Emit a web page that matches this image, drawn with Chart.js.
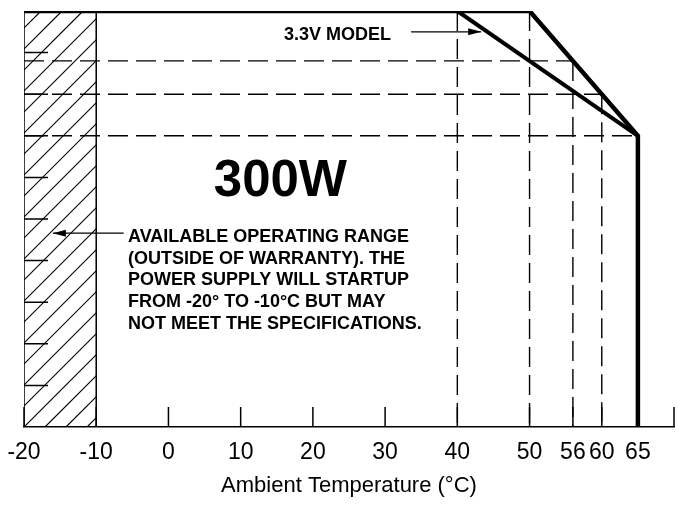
<!DOCTYPE html>
<html>
<head>
<meta charset="utf-8">
<script src="https://cdn.jsdelivr.net/npm/chart.js@4"></script>
<style>
  html, body { margin: 0; padding: 0; background: #fff; }
  #wrap { width: 678px; height: 508px; }
</style>
</head>
<body>
<div id="wrap"><canvas id="c"></canvas></div>
<script>
/* ── Data ── */
const tickTemps   = [-20, -10, 0, 10, 20, 30, 40, 50, 56, 60, 65, 70];
const stdTemps    = [-20, 50, 65, 65];     // standard model curve
const stdLoad     = [100, 100, 70, 0];
const v33Temps    = [40, 65];              // 3.3V model curve
const v33Load     = [100, 70];
const refTemps    = [40, 50, 56, 60];      // dashed verticals
const refTempTop  = [100, 100, 88, 80];
const refLoads    = [88, 80, 70];          // dashed horizontals
const refLoadEnd  = [56, 60, 65];
const loadTicks   = [10, 20, 30, 40, 50, 60, 70, 80, 90];
const coldRange   = [-20, -10];            // hatched "outside warranty" band
const noteLines   = [
  'AVAILABLE OPERATING RANGE',
  '(OUTSIDE OF WARRANTY). THE',
  'POWER SUPPLY WILL STARTUP',
  'FROM -20\u00b0 TO -10\u00b0C BUT MAY',
  'NOT MEET THE SPECIFICATIONS.'
];

const FONT = "'Liberation Sans', Arial, sans-serif";
const DASH = [20, 8];

const datasets = [];
const line = (xs, ys, opts) => datasets.push({
  type: 'line',
  data: xs.map((v, i) => ({ x: v, y: ys[i] })),
  borderColor: '#000', pointRadius: 0, tension: 0, fill: false,
  ...opts
});

// dashed guide lines
refTemps.forEach((t, i) => line([t, t], [refTempTop[i], 0], { borderWidth: 1.4, borderDash: DASH }));
refLoads.forEach((l, i) => line([coldRange[0], refLoadEnd[i]], [l, l], { borderWidth: 1.4, borderDash: DASH }));
// band borders
coldRange.forEach(t => line([t, t], [100, 0], { borderWidth: 1.5 }));
// derating curves
line(stdTemps, stdLoad, { borderWidth: 4.5 });
line(v33Temps, v33Load, { borderWidth: 4 });

/* ── Drawing helpers ── */
function arrow(ctx, x0, y0, x1, y1) {
  const ang = Math.atan2(y1 - y0, x1 - x0), L = 13, W = 3.5;
  ctx.beginPath(); ctx.moveTo(x0, y0); ctx.lineTo(x1, y1); ctx.stroke();
  ctx.beginPath();
  ctx.moveTo(x1, y1);
  ctx.lineTo(x1 - L * Math.cos(ang) + W * Math.sin(ang), y1 - L * Math.sin(ang) - W * Math.cos(ang));
  ctx.lineTo(x1 - L * Math.cos(ang) - W * Math.sin(ang), y1 - L * Math.sin(ang) + W * Math.cos(ang));
  ctx.closePath(); ctx.fill();
}

const decor = {
  id: 'decor',
  beforeDatasetsDraw(chart) {
    const { ctx, chartArea: a, scales: { x } } = chart;
    const x0 = x.getPixelForValue(coldRange[0]), x1 = x.getPixelForValue(coldRange[1]);
    const h = a.bottom - a.top;
    ctx.save();
    ctx.beginPath(); ctx.rect(x0, a.top, x1 - x0, h); ctx.clip();
    ctx.strokeStyle = '#000'; ctx.lineWidth = 1.2;
    ctx.beginPath();
    for (let s = x0 - h - 4; s < x1 + 21; s += 21) {
      ctx.moveTo(s, a.bottom); ctx.lineTo(s + h, a.top);
    }
    ctx.stroke();
    ctx.restore();
  },
  afterDatasetsDraw(chart) {
    const { ctx, chartArea: a, scales: { x, y } } = chart;
    ctx.save();
    ctx.strokeStyle = '#000'; ctx.fillStyle = '#000'; ctx.lineWidth = 1.5;
    // inward ticks on load axis
    ctx.beginPath();
    loadTicks.forEach(v => { const py = y.getPixelForValue(v); ctx.moveTo(a.left, py); ctx.lineTo(a.left + 24, py); });
    // upward ticks on temperature axis
    tickTemps.forEach(t => { const px = x.getPixelForValue(t); ctx.moveTo(px, a.bottom); ctx.lineTo(px, a.bottom - 20); });
    ctx.stroke();

    // 3.3V label + arrow
    ctx.font = 'bold 18px ' + FONT;
    ctx.textBaseline = 'alphabetic'; ctx.textAlign = 'left';
    ctx.fillText('3.3V MODEL', x.getPixelForValue(16), y.getPixelForValue(93));
    ctx.lineWidth = 1.3;
    arrow(ctx, x.getPixelForValue(33.6), y.getPixelForValue(95), x.getPixelForValue(43.3), y.getPixelForValue(95));

    // big wattage label
    ctx.font = 'bold 51px ' + FONT;
    ctx.textAlign = 'center';
    ctx.fillText('300W', x.getPixelForValue(15.5), y.getPixelForValue(55.6));

    // note text + arrow into the hatched band
    ctx.font = 'bold 18px ' + FONT;
    ctx.textAlign = 'left';
    const nx = x.getPixelForValue(-5.6), ny = y.getPixelForValue(44.4);
    noteLines.forEach((t, i) => ctx.fillText(t, nx, ny + i * 21.6));
    arrow(ctx, x.getPixelForValue(-6.2), y.getPixelForValue(46.6), x.getPixelForValue(-16), y.getPixelForValue(46.6));
    ctx.restore();
  }
};

new Chart(document.getElementById('c'), {
  data: { datasets },
  options: {
    responsive: true, maintainAspectRatio: false, animation: false,
    layout: { padding: { left: 24, right: 4, top: 11, bottom: 9 } },
    plugins: { legend: { display: false }, tooltip: { enabled: false } },
    scales: {
      x: {
        type: 'linear', min: -20, max: 70,
        afterBuildTicks: s => { s.ticks = tickTemps.map(v => ({ value: v })); },
        grid: { display: false, drawTicks: true, tickLength: 8 },
        border: { display: true, color: '#000', width: 1.5 },
        ticks: {
          autoSkip: false, maxRotation: 0, padding: 4, color: '#000',
          font: { family: FONT, size: 23 },
          callback: v => (v === 70 ? '' : String(v))
        },
        title: {
          display: true, text: 'Ambient Temperature (\u00b0C)', color: '#000',
          font: { family: FONT, size: 22 }, padding: { top: 2, bottom: 0 }
        }
      },
      y: { display: false, min: 0, max: 100 }
    }
  },
  plugins: [decor]
});
</script>
</body>
</html>
